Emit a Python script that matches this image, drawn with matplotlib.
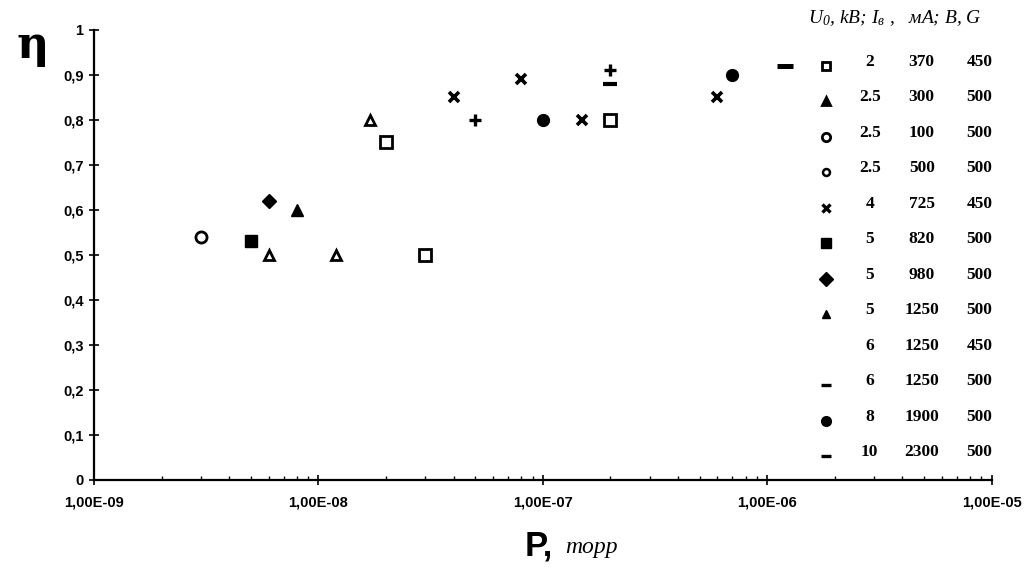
import matplotlib
matplotlib.use("Agg")
import matplotlib.pyplot as plt
from matplotlib.ticker import FixedLocator, LogLocator, NullFormatter

plt.rcParams["mathtext.fontset"] = "custom"
plt.rcParams["mathtext.rm"] = "Liberation Serif:italic"
plt.rcParams["mathtext.it"] = "Liberation Serif:italic"

# series data: pressure (torr) and efficiency
p_sq = [2e-8, 3e-8, 2e-7]
eta_sq = [0.75, 0.50, 0.80]
p_tri = [6e-9, 1.2e-8, 1.7e-8]
eta_tri = [0.50, 0.50, 0.80]
p_circ = [3e-9]
eta_circ = [0.54]
p_small_circ = []
eta_small_circ = []
p_x = [4e-8, 8e-8, 1.5e-7, 6e-7]
eta_x = [0.85, 0.89, 0.80, 0.85]
p_fsq = [5e-9]
eta_fsq = [0.53]
p_dia = [6e-9]
eta_dia = [0.62]
p_ftri = [8e-9]
eta_ftri = [0.60]
p_plus = [5e-8, 2e-7]
eta_plus = [0.80, 0.91]
p_minus = [2e-7]
eta_minus = [0.88]
p_fcirc = [1e-7, 7e-7]
eta_fcirc = [0.80, 0.90]
p_dash = [1.2e-6]
eta_dash = [0.92]

u0 = ["2", "2.5", "2.5", "2.5", "4", "5", "5", "5", "6", "6", "8", "10"]
ib = ["370", "300", "100", "500", "725", "820", "980", "1250", "1250", "1250", "1900", "2300"]
bg = ["450", "500", "500", "500", "450", "500", "500", "500", "450", "500", "500", "500"]

yticks = [0, 0.1, 0.2, 0.3, 0.4, 0.5, 0.6, 0.7, 0.8, 0.9, 1]
ytick_labels = ["0", "0,1", "0,2", "0,3", "0,4", "0,5", "0,6", "0,7", "0,8", "0,9", "1"]
xticks = [1e-9, 1e-8, 1e-7, 1e-6, 1e-5]
xtick_labels = ["1,00E-09", "1,00E-08", "1,00E-07", "1,00E-06", "1,00E-05"]

# marker styles: (marker, filled, size, edge width)
series = [
    (p_sq, eta_sq, "s", False, 8, 2.0),
    (p_tri, eta_tri, "^", False, 7.5, 2.0),
    (p_circ, eta_circ, "o", False, 8, 2.0),
    (p_small_circ, eta_small_circ, "o", False, 5, 1.8),
    (p_x, eta_x, "x", False, 7, 2.6),
    (p_fsq, eta_fsq, "s", True, 8, 1.0),
    (p_dia, eta_dia, "D", True, 7, 1.0),
    (p_ftri, eta_ftri, "^", True, 8, 1.0),
    (p_plus, eta_plus, "+", False, 9, 2.4),
    (p_minus, eta_minus, "_", False, 10, 3.0),
    (p_fcirc, eta_fcirc, "o", True, 8.5, 1.0),
    (p_dash, eta_dash, "_", False, 11, 3.6),
]
legend_sizes = [6, 6, 6, 5, 5.5, 6.5, 7, 6, 0, 7, 7, 7]
legend_filled = [False, True, False, False, False, True, True, True, False, False, True, False]

fig = plt.figure(figsize=(10.33, 5.72), dpi=100)
ax = fig.add_axes([0.091, 0.161, 0.869, 0.787])

for px, py, mk, filled, ms, mew in series:
    ax.plot(px, py, linestyle="none", marker=mk, markersize=ms,
            markeredgewidth=mew, color="black",
            markerfacecolor="black" if filled else "white", clip_on=False)

ax.set_xscale("log")
ax.set_xlim(1e-9, 1e-5)
ax.set_ylim(0, 1)
ax.xaxis.set_major_locator(FixedLocator(xticks))
ax.set_xticklabels(xtick_labels)
ax.xaxis.set_minor_locator(LogLocator(base=10, subs=range(2, 10), numticks=20))
ax.xaxis.set_minor_formatter(NullFormatter())
ax.set_yticks(yticks)
ax.set_yticklabels(ytick_labels)

for s in ["top", "right"]:
    ax.spines[s].set_visible(False)
for s in ["left", "bottom"]:
    ax.spines[s].set_linewidth(1.6)
ax.tick_params(axis="both", which="major", direction="inout", length=7, width=1.2,
               labelsize=10.5, pad=4)
ax.tick_params(axis="x", which="minor", direction="in", length=3, width=1)
ax.tick_params(axis="x", which="major", pad=8)
for lab in ax.get_xticklabels() + ax.get_yticklabels():
    lab.set_fontfamily("Liberation Sans")
    lab.set_fontweight("bold")

# axis titles
fig.text(0.016, 0.92, "η", fontsize=32, fontfamily="DejaVu Serif", fontweight="bold",
         ha="left", va="center")
fig.text(0.508, 0.045, "P,", fontsize=25, fontweight="bold", fontfamily="Liberation Sans",
         ha="left", va="center")
fig.text(0.547, 0.043, "торр", fontsize=17, fontfamily="Liberation Serif", style="italic",
         ha="left", va="center")

# hand-made legend table
def ax_x(px):
    return (px - 94) / 898.0

def ax_y(py):
    return (480 - py) / 450.0

ax.text(ax_x(808), ax_y(18), "U$_0$, kВ; I$_в$ ,   мА; B, G", transform=ax.transAxes,
        fontsize=14, fontfamily="Liberation Serif", style="italic", ha="left", va="center",
        clip_on=False)
row_y0 = 62
row_step = 35.5
for i, (s, ms) in enumerate(zip(series, legend_sizes)):
    y = row_y0 + i * row_step
    mk, mew = s[2], s[5]
    if ms > 0:
        ax.plot([ax_x(826)], [ax_y(y + 4)], transform=ax.transAxes, marker=mk,
                markersize=ms, markeredgewidth=min(mew, 2.4), color="black",
                markerfacecolor="black" if legend_filled[i] else "white", linestyle="none",
                clip_on=False)
    for cx, txt in zip([870, 922, 980], [u0[i], ib[i], bg[i]]):
        ax.text(ax_x(cx), ax_y(y), txt, transform=ax.transAxes, fontsize=12.5,
                fontfamily="Liberation Serif", fontweight="bold", ha="center",
                va="center", clip_on=False)

fig.savefig("out.png", dpi=100)
